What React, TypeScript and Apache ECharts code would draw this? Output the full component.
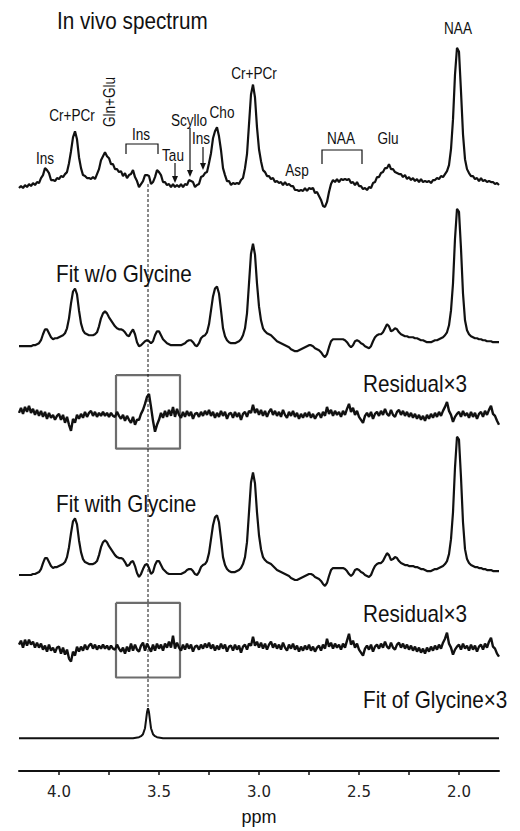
import React, { useEffect, useRef } from "react";
import * as echarts from "echarts";

// ppm sampling grid: 4.20 -> 1.80 step 0.01 (241 points)
const PPM: number[] = Array.from({ length: 241 }, (_, i) => +(4.2 - i * 0.01).toFixed(2));

const IN_VIVO: number[] = [
  1, 3, 1, 4, 2, 5, 3, 6, 4, 7,
  6, 11, 14, 21, 19, 16, 9, 9, 8, 11,
  10, 13, 12, 15, 17, 26, 38, 52, 58, 50,
  32, 21, 14, 13, 11, 11, 10, 12, 10, 15,
  20, 29, 33, 37, 33, 31, 25, 25, 20, 20,
  17, 18, 13, 16, 11, 14, 15, 19, 12, 8,
  2, 5, 8, 14, 14, 13, 5, 7, 12, 19,
  17, 14, 7, 7, 4, 5, 2, 5, 2, 4,
  2, 5, 2, 5, 4, 9, 8, 7, 2, 4,
  5, 12, 13, 16, 17, 26, 36, 51, 58, 62,
  53, 39, 21, 14, 8, 8, 4, 6, 5, 6,
  5, 9, 11, 21, 35, 65, 95, 105, 92, 62,
  40, 28, 19, 17, 13, 13, 10, 11, 7, 8,
  6, 7, 4, 7, 4, 5, 3, 3, -1, -1,
  -2, -1, -2, 1, -2, 1, 0, 1, -4, -3,
  -7, -11, -17, -18, -13, -3, 5, 9, 7, 10,
  7, 10, 9, 10, 9, 10, 6, 7, 4, 7,
  3, 3, 0, 1, -1, 2, 1, 6, 7, 12,
  12, 16, 17, 21, 21, 25, 20, 20, 17, 16,
  15, 15, 12, 14, 10, 12, 9, 11, 8, 10,
  7, 10, 7, 8, 7, 8, 6, 9, 9, 11,
  10, 13, 12, 15, 18, 24, 40, 70, 115, 142,
  138, 98, 55, 30, 20, 16, 13, 13, 10, 11,
  8, 11, 8, 9, 7, 8, 7, 7, 5, 6,
  4,
];

const FIT_WO_GLY: number[] = [
  1, 1, 1, 1, 1, 1, 1, 2, 2, 3,
  4, 7, 13, 18, 18, 14, 10, 8, 9, 9,
  10, 11, 12, 14, 19, 29, 44, 56, 59, 53,
  37, 24, 17, 14, 13, 12, 12, 12, 13, 15,
  21, 29, 34, 36, 34, 30, 27, 24, 21, 19,
  18, 18, 17, 15, 12, 11, 15, 18, 13, 5,
  1, 2, 4, 6, 7, 6, 4, 6, 12, 16,
  16, 12, 8, 6, 4, 3, 2, 2, 2, 2,
  2, 2, 3, 4, 6, 7, 7, 5, 2, 1,
  4, 9, 11, 12, 15, 23, 37, 51, 59, 61,
  54, 37, 19, 11, 7, 5, 4, 4, 4, 5,
  6, 8, 12, 19, 34, 64, 94, 104, 93, 64,
  41, 27, 19, 16, 14, 13, 12, 10, 8, 6,
  5, 4, 3, 2, 1, 0, -2, -3, -4, -4,
  -3, -2, -1, 0, 1, 2, 2, 1, -1, -2,
  -3, -5, -8, -10, -7, 0, 6, 8, 8, 8,
  8, 8, 8, 7, 5, 2, 0, 2, 6, 7,
  6, 4, 3, 1, 0, -1, 1, 6, 10, 12,
  13, 13, 15, 19, 23, 21, 16, 17, 19, 18,
  15, 13, 12, 11, 11, 10, 10, 10, 9, 9,
  8, 7, 7, 6, 5, 5, 5, 6, 7, 7,
  8, 9, 10, 12, 15, 22, 37, 64, 109, 139,
  136, 99, 54, 27, 17, 13, 11, 10, 9, 9,
  8, 8, 7, 7, 6, 6, 6, 5, 5, 5,
  5,
];

const FIT_WITH_GLY: number[] = [
  1, 1, 1, 1, 1, 1, 1, 2, 2, 3,
  4, 7, 13, 18, 18, 14, 10, 8, 9, 9,
  10, 11, 12, 14, 19, 29, 43, 55, 58, 52,
  36, 24, 17, 14, 13, 12, 12, 12, 13, 15,
  21, 29, 34, 36, 34, 30, 27, 24, 21, 19,
  18, 18, 17, 14, 10, 11, 14, 15, 10, 3,
  -1, 2, 7, 11, 12, 8, 2, 4, 11, 15,
  15, 11, 7, 5, 3, 2, 2, 2, 2, 2,
  2, 2, 3, 4, 6, 7, 7, 5, 2, 1,
  4, 9, 11, 12, 15, 23, 37, 51, 59, 61,
  54, 37, 19, 11, 7, 5, 4, 4, 4, 5,
  6, 8, 12, 19, 34, 64, 94, 104, 93, 64,
  41, 27, 19, 16, 14, 13, 12, 10, 8, 6,
  5, 4, 3, 2, 1, 0, -2, -3, -4, -4,
  -3, -2, -1, 0, 1, 2, 2, 1, -1, -2,
  -3, -5, -8, -10, -7, 0, 6, 8, 8, 8,
  8, 8, 8, 7, 5, 2, 0, 2, 6, 7,
  6, 4, 3, 1, 0, -1, 1, 6, 10, 12,
  13, 13, 15, 19, 23, 21, 16, 17, 19, 18,
  15, 13, 12, 11, 11, 10, 10, 10, 9, 9,
  8, 7, 7, 6, 5, 5, 5, 6, 7, 7,
  8, 9, 10, 12, 15, 22, 37, 64, 109, 140,
  137, 99, 54, 27, 17, 13, 11, 10, 9, 9,
  8, 8, 7, 7, 6, 6, 6, 5, 5, 5,
  5,
];

const RESIDUAL_WO: number[] = [
  3, 8, 2, 9, 4, 10, 3, 7, 1, 6,
  0, 5, -1, 4, -3, 3, -2, 1, -4, 0,
  2, -4, 1, -7, -1, -9, -15, -3, -7, 1,
  -3, 2, -2, 4, -1, 3, 5, 0, 4, -1,
  3, 0, 4, 0, 3, -1, 3, 0, -1, 4,
  0, -3, 1, -5, 0, -4, -7, -1, -9, -4,
  -4, 2, 6, 12, 19, 22, 9, -5, -16, -9,
  -4, 3, -2, 5, -1, 6, 0, 9, -1, 7,
  1, -2, 4, -1, 5, 0, 4, -3, 2, 3,
  -1, 4, 0, 5, 1, 6, 0, 4, -2, 3,
  -1, 5, 0, 4, -3, 2, 3, -2, 4, -1,
  3, -4, 2, 4, -1, 5, 3, 11, 3, 7,
  1, 6, 0, 5, -1, 4, 7, 1, 5, 0,
  4, -1, 6, 1, -2, 4, 0, 5, -1, 3,
  -3, 2, -2, 3, -1, 4, -2, 2, -3, 1,
  3, -2, 4, 0, 9, 2, 6, 0, 5, 1,
  4, -1, 5, 1, 7, 12, 4, 8, 1, 5,
  -1, -4, -7, 0, 3, -1, 4, -3, 2, 4,
  0, 5, 1, 7, 2, 0, 6, 1, -1, 4,
  6, 1, 5, 0, 4, -1, 3, -2, 2, -3,
  1, -4, 0, -5, 1, -3, 2, -2, 3, -1,
  4, 0, 5, 9, 14, 5, 1, -6, -1, 2,
  4, -1, 5, 0, 3, -2, 4, -1, 3, -3,
  2, 4, -1, 5, 1, 6, 10, 2, 0, -5,
  -9,
];

const RESIDUAL_WITH: number[] = [
  4, 8, 1, 9, 3, 9, 4, 7, 1, 6,
  1, 5, -1, 3, -3, 4, -2, 1, -4, 1,
  2, -5, 1, -6, -1, -10, -13, -3, -7, 2,
  -3, 2, -2, 4, -1, 3, 5, 0, 4, -1,
  3, 0, 4, 0, 3, -1, 3, 0, -1, 4,
  0, -3, 1, -5, 2, -3, 5, -2, 4, -1,
  -3, 3, 6, -2, 5, 1, -3, 4, -2, 5,
  0, 4, -2, 5, 1, 7, 1, 13, 0, 6,
  1, -2, 4, -1, 5, 0, 4, -3, 2, 3,
  -1, 4, 0, 5, 1, 6, 0, 4, -2, 3,
  -1, 5, 0, 4, -3, 2, 3, -2, 4, -1,
  3, -4, 2, 4, -1, 5, 3, 12, 3, 7,
  1, 6, 0, 5, -1, 4, 7, 1, 5, 0,
  4, -1, 6, 1, -2, 4, 0, 5, -1, 3,
  -3, 2, -2, 3, -1, 4, -2, 2, -3, 1,
  3, -2, 4, 0, 10, 2, 6, 0, 5, 1,
  4, -1, 5, 1, 8, 15, 4, 8, 1, 5,
  -1, -4, -7, 0, 3, -1, 4, -3, 2, 4,
  0, 5, 1, 7, 2, 0, 6, 1, -1, 4,
  6, 1, 5, 0, 4, -1, 3, -2, 2, -3,
  1, -4, 0, -5, 1, -3, 2, -2, 3, -1,
  4, 0, 6, 10, 16, 5, 1, -6, -1, 2,
  4, -1, 5, 0, 3, -2, 4, -1, 3, -3,
  2, 4, -1, 5, 1, 7, 11, 2, 0, -5,
  -8,
];

// glycine fit (x3): [ppm, amplitude]
const GLY_FIT: [number, number][] = [
  [4.2, 0], [3.63, 0], [3.6, 1], [3.59, 2], [3.58, 4], [3.57, 10], [3.565, 18],
  [3.56, 26], [3.555, 30], [3.55, 26], [3.545, 18], [3.54, 10], [3.53, 4],
  [3.52, 2], [3.51, 1], [3.48, 0], [1.8, 0],
];

const GLY_PPM = 3.555;
const BOX_PPM: [number, number] = [3.715, 3.395];
const X_TICKS = [2.0, 2.5, 3.0, 3.5, 4.0];
const X_MINOR = [2.0, 2.25, 2.5, 2.75, 3.0, 3.25, 3.5, 3.75, 4.0];

// layout: baseline offsets in the stacked plot (y units = px above axis)
const OFF = { vivo: 585, wo: 426, res1: 357, withG: 196, res2: 123, gly: 33 };

const FONT = "'Liberation Sans', Arial, sans-serif";

export default function App() {
  const ref = useRef<HTMLDivElement>(null);
  useEffect(() => {
    if (!ref.current) return;
    const chart = echarts.init(ref.current, undefined, { renderer: "svg" });
    const trace = (vals: number[], off: number) => vals.map((v, i) => [PPM[i], v + off]);
    const lineS = (data: any[], extra: any = {}) => ({
      type: "line",
      data,
      symbol: "none",
      silent: true,
      lineStyle: { color: "#111", width: 2.2, ...(extra.lineStyle || {}) },
      z: extra.z ?? 2,
    });
    const box = (y1: number, y2: number) => [
      [BOX_PPM[0], y1], [BOX_PPM[1], y1], [BOX_PPM[1], y2], [BOX_PPM[0], y2], [BOX_PPM[0], y1],
    ];
    const txt = (text: string, x: number, y: number, size: number, sx: number, align = "center", rotation = 0) => ({
      type: "text",
      x,
      y,
      rotation,
      scaleX: sx,
      silent: true,
      style: {
        text,
        fill: "#111",
        font: `${size}px ${FONT}`,
        textAlign: align,
        textVerticalAlign: "middle",
      },
    });
    const big = (text: string, x: number, y: number) => txt(text, x, y, 23, 0.9, "left");
    const small = (text: string, x: number, y: number, rotation = 0) => txt(text, x, y, 17, 0.8, "center", rotation);
    const ln = (x1: number, y1: number, x2: number, y2: number) => ({
      type: "line",
      silent: true,
      shape: { x1, y1, x2, y2 },
      style: { stroke: "#111", lineWidth: 1.2 },
    });
    const pl = (points: number[][]) => ({
      type: "polyline",
      silent: true,
      shape: { points },
      style: { stroke: "#111", lineWidth: 1.2, fill: null },
    });
    const head = (x: number, y: number) => ({
      type: "polygon",
      silent: true,
      shape: { points: [[x - 3, y - 7], [x + 3, y - 7], [x, y]] },
      style: { fill: "#111" },
    });

    chart.setOption({
      animation: false,
      grid: { left: 19, right: 21, top: 0, bottom: 56 },
      xAxis: {
        type: "value",
        inverse: true,
        min: 1.8,
        max: 4.2,
        name: "ppm",
        nameLocation: "middle",
        nameGap: 37,
        nameTextStyle: { fontFamily: FONT, fontSize: 18, color: "#111" },
        axisLine: { lineStyle: { color: "#111", width: 2 } },
        axisTick: { customValues: X_MINOR, length: 4, lineStyle: { color: "#111", width: 1.5 } },
        axisLabel: {
          customValues: X_TICKS,
          formatter: (v: number) => v.toFixed(1),
          fontFamily: "'DejaVu Sans', sans-serif",
          fontSize: 15,
          color: "#222",
          margin: 13,
        },
        splitLine: { show: false },
      },
      yAxis: { type: "value", min: 0, max: 775, show: false },
      series: [
        lineS(trace(IN_VIVO, OFF.vivo)),
        lineS(trace(FIT_WO_GLY, OFF.wo)),
        lineS(trace(RESIDUAL_WO, OFF.res1), { lineStyle: { width: 2.4 } }),
        lineS(trace(FIT_WITH_GLY, OFF.withG)),
        lineS(trace(RESIDUAL_WITH, OFF.res2), { lineStyle: { width: 2.4 } }),
        lineS(GLY_FIT.map(([p, v]) => [p, v + OFF.gly]), { lineStyle: { width: 2 } }),
        lineS([[GLY_PPM, 590], [GLY_PPM, 63]], { lineStyle: { width: 1, type: [3, 2] }, z: 3 }),
        lineS(box(398, 324), { lineStyle: { color: "#6d6d6d", width: 2.2 }, z: 1 }),
        lineS(box(169, 94), { lineStyle: { color: "#6d6d6d", width: 2.2 }, z: 1 }),
      ],
      graphic: [
        big("In vivo spectrum", 57, 21),
        big("Fit w/o Glycine", 56, 274),
        big("Residual×3", 363, 384),
        big("Fit with Glycine", 56, 504),
        big("Residual×3", 363, 614),
        big("Fit of Glycine×3", 363, 700),
        small("Ins", 45, 158),
        small("Cr+PCr", 72, 115),
        small("Gln+Glu", 109, 102, Math.PI / 2),
        small("Ins", 141, 134),
        pl([[126, 154], [126, 144], [158, 144], [158, 154]]),
        small("Tau", 173, 155),
        ln(175, 163, 175, 178),
        head(175, 183),
        small("Scyllo", 189, 120),
        ln(190, 128, 190, 172),
        head(190, 177),
        small("Ins", 201, 138),
        ln(203, 147, 203, 164),
        head(203, 170),
        small("Cho", 222, 112),
        small("Cr+PCr", 254, 73),
        small("Asp", 297, 170),
        small("NAA", 341, 138),
        pl([[322, 164], [322, 150], [362, 150], [362, 164]]),
        small("Glu", 388, 138),
        small("NAA", 458, 28),
      ],
    });
    return () => chart.dispose();
  }, []);
  return <div ref={ref} style={{ position: "absolute", left: 0, top: 0, width: 520, height: 831 }} />;
}
